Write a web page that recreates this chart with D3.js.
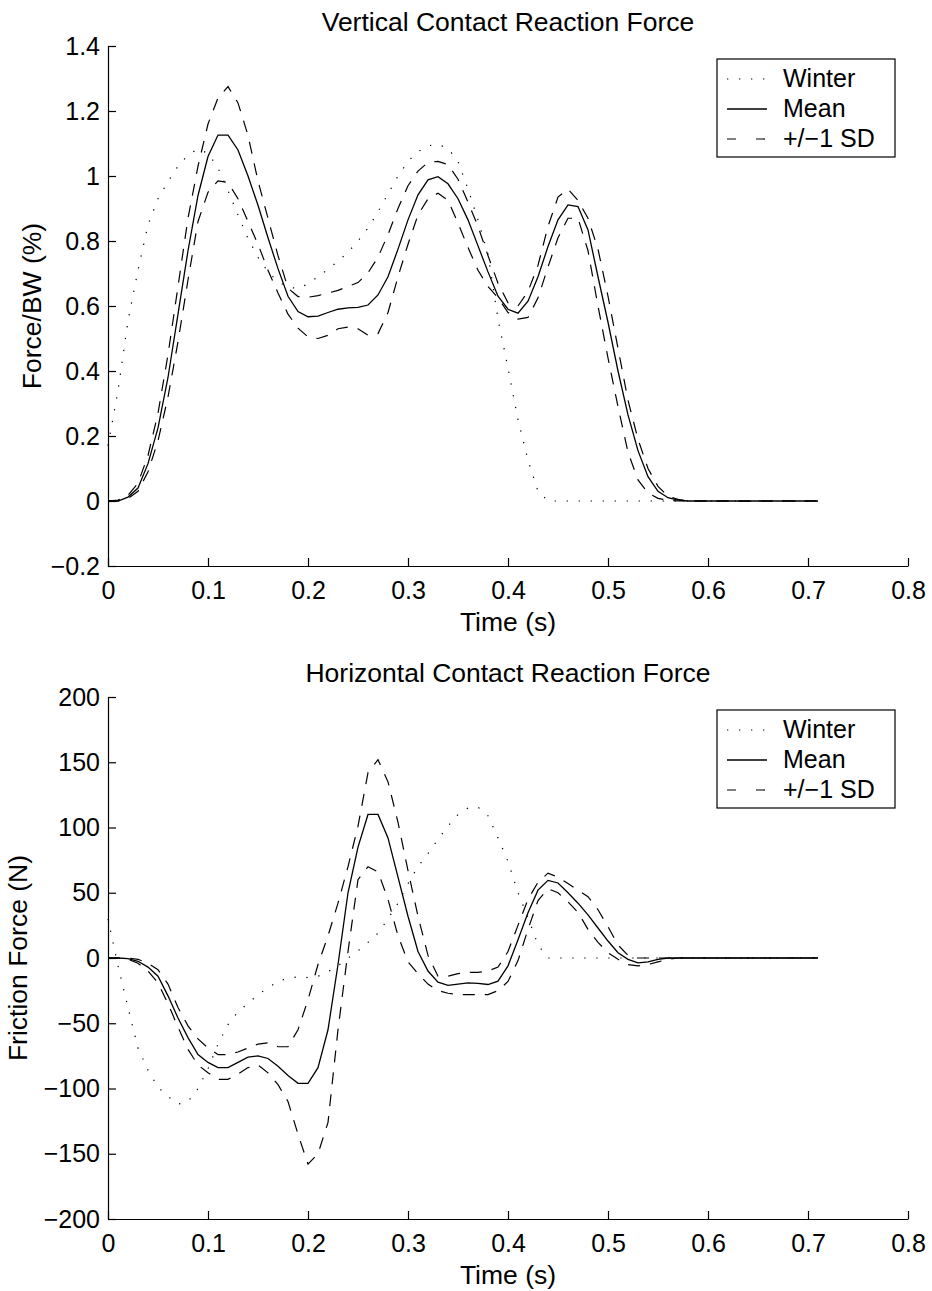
<!DOCTYPE html>
<html>
<head>
<meta charset="utf-8">
<script src="https://cdn.jsdelivr.net/npm/d3@7"></script>
<style>
  body { margin: 0; background: #fff; }
  svg { display: block; font-family: "Liberation Sans", Arial, Helvetica, sans-serif; }
  .tick text { font-size: 25px; fill: #000; }
  .tick line, .domain { stroke: #000; stroke-width: 1.2; }
  .title, .axis-label { font-size: 26.5px; fill: #000; }
  .legend-label { font-size: 25px; fill: #000; }
</style>
</head>
<body>
<svg id="chart" width="932" height="1291"></svg>
<script>
// sampling: one value every 0.01 s, from 0 to 0.71 s
const SAMPLE_COUNT = 72;
const SAMPLE_STEP = 0.01;

const X_TICKS = [0, 0.1, 0.2, 0.3, 0.4, 0.5, 0.6, 0.7, 0.8];
const X_TICK_LABELS = ["0", "0.1", "0.2", "0.3", "0.4", "0.5", "0.6", "0.7", "0.8"];

const VERT_TICKS = [-0.2, 0, 0.2, 0.4, 0.6, 0.8, 1, 1.2, 1.4];
const VERT_TICK_LABELS = ["\u22120.2", "0", "0.2", "0.4", "0.6", "0.8", "1", "1.2", "1.4"];

const HORIZ_TICKS = [-200, -150, -100, -50, 0, 50, 100, 150, 200];
const HORIZ_TICK_LABELS = ["\u2212200", "\u2212150", "\u2212100", "\u221250", "0", "50", "100", "150", "200"];

const LEGEND_LABELS = ["Winter", "Mean", "+/\u22121 SD"];

// Vertical contact reaction force (Force/BW)
const vertWinter = [
  0.17, 0.34, 0.555, 0.71, 0.85, 0.93, 0.983, 1.03, 1.065, 1.083,
  1.07, 1.025, 0.955, 0.88, 0.808, 0.75, 0.705, 0.675, 0.658, 0.654,
  0.668, 0.69, 0.713, 0.738, 0.765, 0.8, 0.84, 0.89, 0.945, 1.0,
  1.045, 1.075, 1.093, 1.097, 1.085, 1.045, 0.96, 0.865, 0.76, 0.56,
  0.41, 0.25, 0.125, 0.03, 0, 0, 0, 0, 0, 0,
  0, 0, 0, 0, 0, 0, 0, 0, 0, 0,
  0, 0, 0, 0, 0, 0, 0, 0, 0, 0,
  0, 0
];
const vertMean = [
  0, 0, 0.012, 0.04, 0.115, 0.225, 0.38, 0.575, 0.77, 0.94,
  1.06, 1.126, 1.126, 1.08, 1.0, 0.91, 0.81, 0.715, 0.63, 0.583,
  0.567, 0.569, 0.58, 0.59, 0.594, 0.596, 0.603, 0.634, 0.69, 0.775,
  0.865, 0.942, 0.988, 0.998, 0.976, 0.93, 0.865, 0.785, 0.705, 0.63,
  0.59, 0.578, 0.615, 0.69, 0.783, 0.865, 0.911, 0.906, 0.834, 0.69,
  0.55, 0.4, 0.265, 0.155, 0.075, 0.03, 0.01, 0.003, 0, 0,
  0, 0, 0, 0, 0, 0, 0, 0, 0, 0,
  0, 0
];
const vertUpper = [
  0, 0.003, 0.018, 0.055, 0.14, 0.27, 0.45, 0.66, 0.87, 1.03,
  1.16, 1.24, 1.275, 1.225, 1.125, 0.985, 0.87, 0.755, 0.655, 0.629,
  0.627, 0.632, 0.64, 0.648, 0.66, 0.672, 0.702, 0.75, 0.82, 0.9,
  0.97, 1.015, 1.042, 1.045, 1.035, 0.99, 0.92, 0.845, 0.755, 0.67,
  0.61, 0.6, 0.645, 0.725, 0.845, 0.935, 0.96, 0.925, 0.87, 0.775,
  0.63, 0.47, 0.31, 0.19, 0.1, 0.045, 0.015, 0.005, 0, 0,
  0, 0, 0, 0, 0, 0, 0, 0, 0, 0,
  0, 0
];
const vertLower = [
  0, 0, 0.008, 0.03, 0.09, 0.185, 0.32, 0.49, 0.68, 0.86,
  0.95, 0.985, 0.98, 0.93, 0.86, 0.79, 0.71, 0.64, 0.575, 0.532,
  0.505, 0.5, 0.51, 0.53, 0.535, 0.53, 0.51, 0.515, 0.58, 0.69,
  0.79, 0.88, 0.93, 0.947, 0.925, 0.855, 0.78, 0.71, 0.66, 0.625,
  0.58, 0.56, 0.565, 0.625, 0.72, 0.81, 0.87, 0.87, 0.77, 0.6,
  0.44, 0.29, 0.15, 0.065, 0.025, 0.008, 0.002, 0, 0, 0,
  0, 0, 0, 0, 0, 0, 0, 0, 0, 0,
  0, 0
];

// Horizontal contact reaction force (N)
const horizWinter = [
  30, -6, -38, -69, -86, -99, -106, -112, -110, -100,
  -85, -66, -51, -41, -35, -28, -23, -18, -15.5, -14.5,
  -15, -14, -10.5, -6, 0, 5.5, 12, 19, 30, 42,
  57, 70, 80, 91, 101, 110, 115, 115.6, 109, 92,
  74, 50, 31, 10, 0, 0, 0, 0, 0, 0,
  0, 0, 0, 0, 0, 0, 0, 0, 0, 0,
  0, 0, 0, 0, 0, 0, 0, 0, 0, 0,
  0, 0
];
const horizMean = [
  0, 0, -0.5, -2.5, -7, -14, -29, -46, -61, -74,
  -80, -84, -84, -80, -76, -75, -77, -83, -90, -96,
  -96, -84, -55, -5, 50, 85, 110, 110, 92, 62,
  32, 5, -10, -18.5, -21, -20, -19, -19.5, -20.3, -17.7,
  -6, 14, 34.6, 52, 59.5, 57.5, 50, 42, 33, 23,
  13, 4, -1, -3.7, -3, -1, 0, 0, 0, 0,
  0, 0, 0, 0, 0, 0, 0, 0, 0, 0,
  0, 0
];
const horizUpper = [
  0, 0, 0, -1, -4, -9, -20, -38, -52, -62,
  -69, -74, -74, -72, -69, -66, -65, -68, -68, -55,
  -32, -5, 17, 42, 70, 101, 142, 152, 135, 104,
  67, 32, 2, -14, -14, -12, -11, -11, -10, -7,
  5, 25, 45, 58, 65, 62, 57, 52, 47, 37,
  24, 10, 2, 0, 0, 0, 0, 0, 0, 0,
  0, 0, 0, 0, 0, 0, 0, 0, 0, 0,
  0, 0
];
const horizLower = [
  0, 0, -1, -4, -10, -19, -35, -53, -70, -82,
  -88, -93, -93, -89, -84, -82, -88, -97, -110, -135,
  -158, -150, -126, -55, 5, 60, 70, 66, 45, 17,
  -3, -12, -20, -25, -27, -28, -28, -28, -28, -25,
  -18, -2, 22, 44, 53, 50, 43, 35, 22, 12,
  4, -1, -5, -6, -5, -3, -1, 0, 0, 0,
  0, 0, 0, 0, 0, 0, 0, 0, 0, 0,
  0, 0
];

const LINE_STYLES = {
  winter: { dash: "1.3,10.7", width: 1.2 },
  mean: { dash: null, width: 1.3 },
  sd: { dash: "12,10", width: 1.2 },
};

const times = d3.range(SAMPLE_COUNT).map((i) => +(i * SAMPLE_STEP).toFixed(2));

function drawPanel(svg, panel) {
  const { top, bottom, left, right } = panel;
  const x = d3.scaleLinear().domain([0, 0.8]).range([left, right]);
  const y = d3.scaleLinear().domain(panel.yDomain).range([bottom, top]);

  const g = svg.append("g");

  // axes (box off, ticks pointing inward like matlab)
  g.append("g")
    .attr("transform", `translate(0,${bottom})`)
    .call(d3.axisBottom(x).tickValues(X_TICKS)
      .tickFormat((d, i) => X_TICK_LABELS[i])
      .tickSizeInner(-8).tickSizeOuter(0).tickPadding(15));

  g.append("g")
    .attr("transform", `translate(${left},0)`)
    .call(d3.axisLeft(y).tickValues(panel.yTicks)
      .tickFormat((d, i) => panel.yTickLabels[i])
      .tickSizeInner(-8).tickSizeOuter(0).tickPadding(8));

  g.selectAll(".tick text").attr("font-family", null).attr("font-size", null);

  const line = d3.line().x((d) => x(d[0])).y((d) => y(d[1]));

  panel.series.forEach((s) => {
    const style = LINE_STYLES[s.style];
    g.append("path")
      .datum(times.map((t, i) => [t, s.values[i]]))
      .attr("fill", "none")
      .attr("stroke", "#000")
      .attr("stroke-width", style.width)
      .attr("stroke-dasharray", style.dash)
      .attr("d", line);
  });

  // labels
  g.append("text").attr("class", "title")
    .attr("x", (left + right) / 2).attr("y", top - 15)
    .attr("text-anchor", "middle").text(panel.title);

  g.append("text").attr("class", "axis-label")
    .attr("x", (left + right) / 2).attr("y", bottom + 65)
    .attr("text-anchor", "middle").text("Time (s)");

  g.append("text").attr("class", "axis-label")
    .attr("transform", `translate(${panel.yLabelX},${(top + bottom) / 2}) rotate(-90)`)
    .attr("text-anchor", "middle").text(panel.yLabel);

  // legend
  const lx = right - 191;
  const ly = top + 13;
  g.append("rect")
    .attr("x", lx).attr("y", ly)
    .attr("width", 178).attr("height", 98)
    .attr("fill", "#fff").attr("stroke", "#000").attr("stroke-width", 1.2);

  const legendStyles = [
    { dash: "1.3,10.7", width: 1.2 },
    { dash: null, width: 1.3 },
    { dash: "9,20", width: 1.2 },
  ];
  LEGEND_LABELS.forEach((label, i) => {
    const rowY = ly + 28 + i * 30;
    g.append("line")
      .attr("x1", lx + 10).attr("x2", lx + 50)
      .attr("y1", rowY - 8).attr("y2", rowY - 8)
      .attr("stroke", "#000")
      .attr("stroke-width", legendStyles[i].width)
      .attr("stroke-dasharray", legendStyles[i].dash);
    g.append("text").attr("class", "legend-label")
      .attr("x", lx + 66).attr("y", rowY).text(label);
  });
}

const svg = d3.select("#chart");
svg.append("rect").attr("width", 932).attr("height", 1291).attr("fill", "#fff");

drawPanel(svg, {
  top: 46, bottom: 566, left: 108, right: 908,
  yDomain: [-0.2, 1.4],
  yTicks: VERT_TICKS,
  yTickLabels: VERT_TICK_LABELS,
  title: "Vertical Contact Reaction Force",
  yLabel: "Force/BW (%)",
  yLabelX: 41,
  series: [
    { values: vertWinter, style: "winter" },
    { values: vertMean, style: "mean" },
    { values: vertUpper, style: "sd" },
    { values: vertLower, style: "sd" },
  ],
});

drawPanel(svg, {
  top: 697, bottom: 1219, left: 108, right: 908,
  yDomain: [-200, 200],
  yTicks: HORIZ_TICKS,
  yTickLabels: HORIZ_TICK_LABELS,
  title: "Horizontal Contact Reaction Force",
  yLabel: "Friction Force (N)",
  yLabelX: 27,
  series: [
    { values: horizWinter, style: "winter" },
    { values: horizMean, style: "mean" },
    { values: horizUpper, style: "sd" },
    { values: horizLower, style: "sd" },
  ],
});
</script>
</body>
</html>
